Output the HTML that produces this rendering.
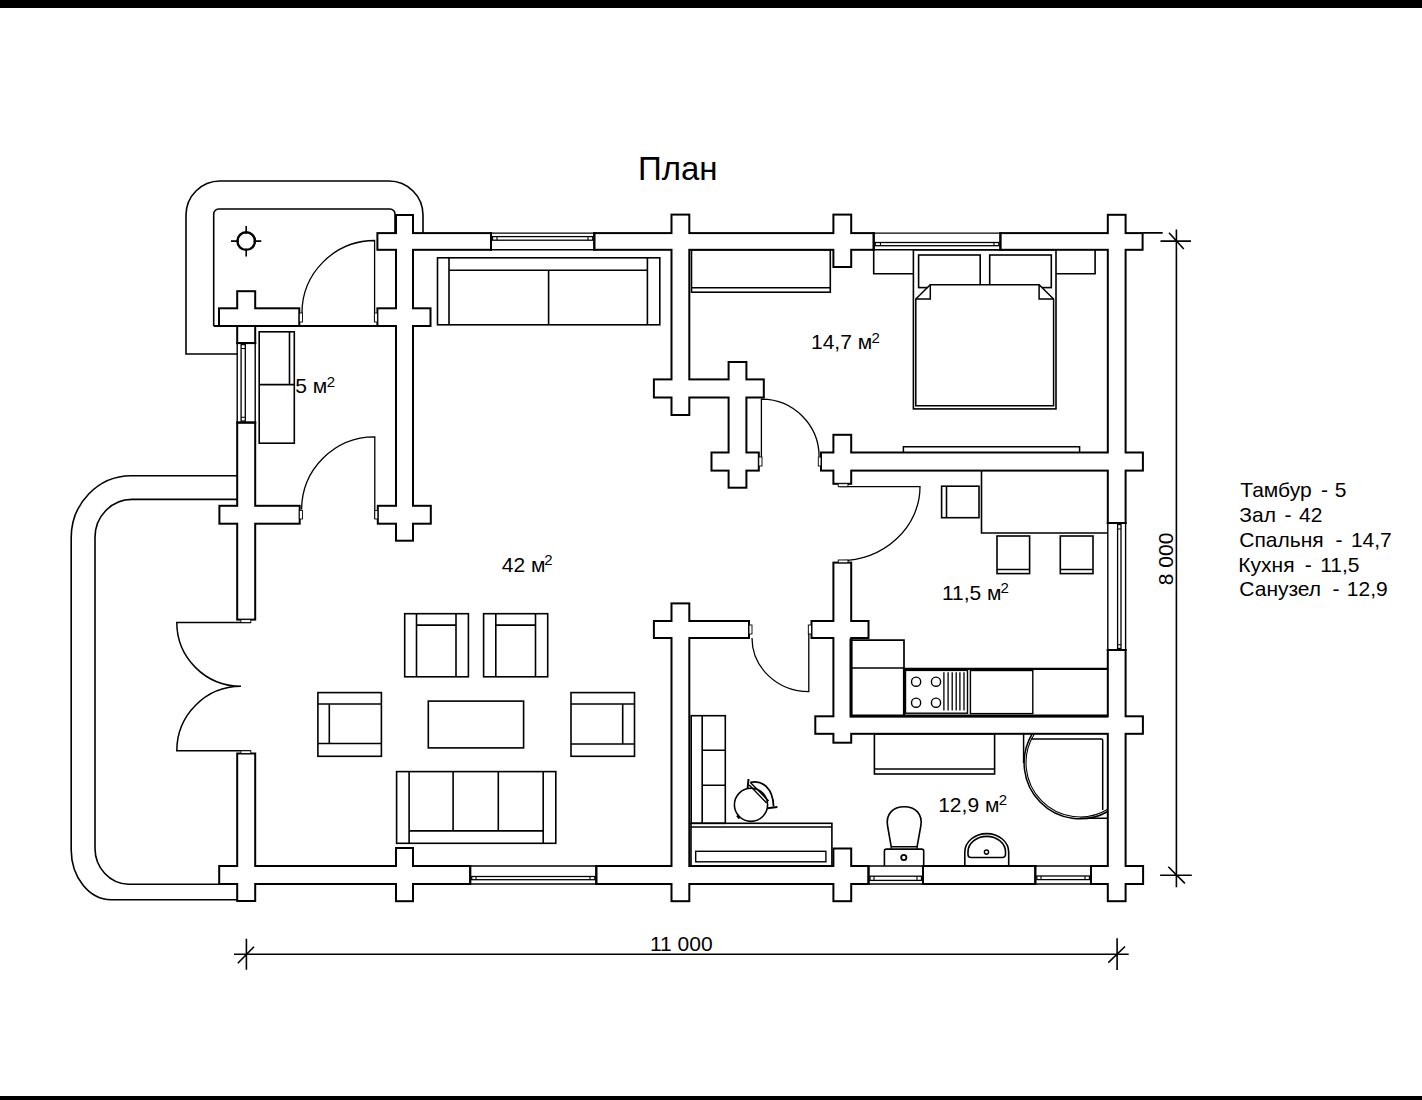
<!DOCTYPE html>
<html><head><meta charset="utf-8"><style>
html,body{margin:0;padding:0;background:#fff;width:1422px;height:1100px;overflow:hidden;position:relative}
.bar{position:absolute;left:0;width:1422px;background:#000}
svg{position:absolute;left:0;top:0}
.t{position:absolute;font-family:"Liberation Sans",sans-serif;color:#000;white-space:nowrap;line-height:1}
.r{font-size:20px}
.r sup{font-size:14px;vertical-align:0;position:relative;top:-8px}
.rot{transform:rotate(-90deg);transform-origin:0 0}
.leg{font-size:20px;line-height:24.6px}
</style></head><body>
<div class="bar" style="top:0;height:8px"></div>
<div class="bar" style="top:1096px;height:4px"></div>
<svg width="1422" height="1100" viewBox="0 0 1422 1100">
<g fill="#000">
<rect x="376.40" y="232.10" width="115.60" height="18.70"/>
<rect x="593.30" y="232.10" width="281.40" height="18.70"/>
<rect x="999.40" y="232.10" width="144.20" height="18.70"/>
<rect x="395.00" y="214.00" width="19.00" height="327.70"/>
<rect x="670.50" y="213.60" width="19.80" height="202.40"/>
<rect x="832.40" y="213.60" width="19.80" height="54.40"/>
<rect x="1106.80" y="213.80" width="19.80" height="310.20"/>
<rect x="1106.80" y="649.00" width="19.80" height="253.20"/>
<rect x="218.00" y="307.30" width="82.30" height="19.70"/>
<rect x="376.40" y="307.30" width="55.10" height="19.70"/>
<rect x="236.20" y="290.20" width="20.00" height="53.90"/>
<rect x="236.20" y="421.60" width="20.00" height="199.00"/>
<rect x="236.20" y="752.50" width="20.00" height="149.50"/>
<rect x="218.40" y="504.80" width="82.30" height="19.90"/>
<rect x="376.80" y="504.80" width="55.00" height="19.90"/>
<rect x="652.90" y="378.40" width="111.90" height="20.10"/>
<rect x="727.60" y="361.00" width="19.80" height="127.70"/>
<rect x="710.50" y="451.50" width="49.30" height="20.10"/>
<rect x="820.00" y="451.50" width="323.90" height="20.10"/>
<rect x="832.40" y="433.80" width="19.80" height="51.00"/>
<rect x="832.40" y="561.60" width="19.80" height="182.10"/>
<rect x="652.90" y="620.00" width="97.10" height="19.00"/>
<rect x="810.50" y="620.00" width="59.00" height="19.00"/>
<rect x="670.50" y="602.40" width="19.80" height="299.80"/>
<rect x="814.30" y="715.30" width="329.60" height="19.50"/>
<rect x="218.20" y="865.00" width="253.00" height="20.00"/>
<rect x="595.30" y="865.00" width="274.20" height="20.00"/>
<rect x="922.00" y="865.00" width="114.30" height="20.00"/>
<rect x="1090.00" y="865.00" width="54.10" height="20.00"/>
<rect x="395.00" y="847.00" width="19.00" height="55.20"/>
<rect x="832.40" y="847.50" width="19.80" height="54.70"/>
</g><g fill="#fff">
<rect x="378.40" y="234.10" width="111.60" height="14.70"/>
<rect x="595.30" y="234.10" width="277.40" height="14.70"/>
<rect x="1001.40" y="234.10" width="140.20" height="14.70"/>
<rect x="397.00" y="216.00" width="15.00" height="323.70"/>
<rect x="672.50" y="215.60" width="15.80" height="198.40"/>
<rect x="834.40" y="215.60" width="15.80" height="50.40"/>
<rect x="1108.80" y="215.80" width="15.80" height="306.20"/>
<rect x="1108.80" y="651.00" width="15.80" height="249.20"/>
<rect x="220.00" y="309.30" width="78.30" height="15.70"/>
<rect x="378.40" y="309.30" width="51.10" height="15.70"/>
<rect x="238.20" y="292.20" width="16.00" height="49.90"/>
<rect x="238.20" y="423.60" width="16.00" height="195.00"/>
<rect x="238.20" y="754.50" width="16.00" height="145.50"/>
<rect x="220.40" y="506.80" width="78.30" height="15.90"/>
<rect x="378.80" y="506.80" width="51.00" height="15.90"/>
<rect x="654.90" y="380.40" width="107.90" height="16.10"/>
<rect x="729.60" y="363.00" width="15.80" height="123.70"/>
<rect x="712.50" y="453.50" width="45.30" height="16.10"/>
<rect x="822.00" y="453.50" width="319.90" height="16.10"/>
<rect x="834.40" y="435.80" width="15.80" height="47.00"/>
<rect x="834.40" y="563.60" width="15.80" height="178.10"/>
<rect x="654.90" y="622.00" width="93.10" height="15.00"/>
<rect x="812.50" y="622.00" width="55.00" height="15.00"/>
<rect x="672.50" y="604.40" width="15.80" height="295.80"/>
<rect x="816.30" y="717.30" width="325.60" height="15.50"/>
<rect x="220.20" y="867.00" width="249.00" height="16.00"/>
<rect x="597.30" y="867.00" width="270.20" height="16.00"/>
<rect x="924.00" y="867.00" width="110.30" height="16.00"/>
<rect x="1092.00" y="867.00" width="50.10" height="16.00"/>
<rect x="397.00" y="849.00" width="15.00" height="51.20"/>
<rect x="834.40" y="849.50" width="15.80" height="50.70"/>
</g>
<path d="M491,233.1H594.3M491,249.8H594.3" fill="none" stroke="#000" stroke-width="1.4"/>
<path d="M491,232.1V250.8M594.3,232.1V250.8" fill="none" stroke="#000" stroke-width="2"/>
<rect x="492.5" y="236.6" width="100.29999999999995" height="3.5999999999999943" fill="none" stroke="#000" stroke-width="1.3"/>
<path d="M497,236.6V240.2M588,236.6V240.2" fill="none" stroke="#000" stroke-width="1.1"/>
<path d="M873.7,233.1H1000.4M873.7,249.8H1000.4" fill="none" stroke="#000" stroke-width="1.4"/>
<path d="M873.7,232.1V250.8M1000.4,232.1V250.8" fill="none" stroke="#000" stroke-width="2"/>
<rect x="875.2" y="242.5" width="123.69999999999993" height="3.1999999999999886" fill="none" stroke="#000" stroke-width="1.3"/>
<path d="M880.5,242.5V245.7M994,242.5V245.7" fill="none" stroke="#000" stroke-width="1.1"/>
<path d="M470.2,866H596.3M470.2,884H596.3" fill="none" stroke="#000" stroke-width="1.4"/>
<path d="M470.2,865V885M596.3,865V885" fill="none" stroke="#000" stroke-width="2"/>
<rect x="471.7" y="876.5" width="123.09999999999997" height="3.2000000000000455" fill="none" stroke="#000" stroke-width="1.3"/>
<path d="M476,876.5V879.7M590,876.5V879.7" fill="none" stroke="#000" stroke-width="1.1"/>
<path d="M868.5,866H923M868.5,884H923" fill="none" stroke="#000" stroke-width="1.4"/>
<path d="M868.5,865V885M923,865V885" fill="none" stroke="#000" stroke-width="2"/>
<rect x="870.0" y="876.2" width="51.5" height="4.199999999999932" fill="none" stroke="#000" stroke-width="1.3"/>
<path d="M874,876.2V880.4M917,876.2V880.4" fill="none" stroke="#000" stroke-width="1.1"/>
<path d="M1035.3,866H1091M1035.3,884H1091" fill="none" stroke="#000" stroke-width="1.4"/>
<path d="M1035.3,865V885M1091,865V885" fill="none" stroke="#000" stroke-width="2"/>
<rect x="1036.8" y="876" width="52.700000000000045" height="3.6000000000000227" fill="none" stroke="#000" stroke-width="1.3"/>
<path d="M1041,876V879.6M1085,876V879.6" fill="none" stroke="#000" stroke-width="1.1"/>
<path d="M241.1,348.5H245.3M241.1,417.2H245.3" fill="none" stroke="#000" stroke-width="1.1"/>
<path d="M237.2,343.1V422.6M255.2,343.1V422.6" fill="none" stroke="#000" stroke-width="1.4"/>
<path d="M236.2,343.1H256.2M236.2,422.6H256.2" fill="none" stroke="#000" stroke-width="2"/>
<rect x="241.1" y="344.6" width="4.200000000000017" height="76.5" fill="none" stroke="#000" stroke-width="1.3"/>
<path d="M1117.6,529H1121M1117.6,644.7H1121" fill="none" stroke="#000" stroke-width="1.1"/>
<path d="M1107.8,523V650M1125.6,523V650" fill="none" stroke="#000" stroke-width="1.4"/>
<path d="M1106.8,523H1126.6M1106.8,650H1126.6" fill="none" stroke="#000" stroke-width="2"/>
<rect x="1117.6" y="524.5" width="3.400000000000091" height="124" fill="none" stroke="#000" stroke-width="1.3"/>
<path d="M237.2,354H186V215A34,34 0 0 1 220,181H389A34,34 0 0 1 423,215V233.1" fill="none" stroke="#000" stroke-width="1.6"/>
<path d="M213.7,326V214A5,5 0 0 1 218.7,209H390A5,5 0 0 1 395,214V233" fill="none" stroke="#000" stroke-width="1.6"/>
<path d="M213.7,326H396" fill="none" stroke="#000" stroke-width="1.8"/>
<path d="M237.2,475.7H131A60,62 0 0 0 71.2,537.7V850A40,50 0 0 0 111.5,899.7H237.2" fill="none" stroke="#000" stroke-width="1.6"/>
<path d="M237.2,499.4H132A37,38 0 0 0 95,537.4V848.3A34,36 0 0 0 128.5,884.2H219.3" fill="none" stroke="#000" stroke-width="1.6"/>
<circle cx="246.2" cy="241.1" r="8.8" fill="none" stroke="#000" stroke-width="2.4"/>
<path d="M231,241.1H238.8M253.6,241.1H261.3M246.2,226V233.8M246.2,248.4V256.6" fill="none" stroke="#000" stroke-width="1.6"/>
<path d="M374.6,322V240.5A73,72.5 0 0 0 302,313" fill="none" stroke="#000" stroke-width="1.3"/>
<rect x="299.3" y="313" width="3.1999999999999886" height="9" fill="#fff" stroke="#000" stroke-width="0.9"/>
<rect x="374.4" y="313" width="3.0" height="9" fill="#fff" stroke="#000" stroke-width="0.9"/>
<path d="M374.8,519V436.9A73,73 0 0 0 301.6,509.5" fill="none" stroke="#000" stroke-width="1.3"/>
<rect x="299.3" y="510.4" width="3.1999999999999886" height="8.600000000000023" fill="#fff" stroke="#000" stroke-width="0.9"/>
<rect x="374.8" y="510.4" width="3.0" height="8.600000000000023" fill="#fff" stroke="#000" stroke-width="0.9"/>
<path d="M250.8,622.6H176.8A64.2,63.7 0 0 0 241,686.3A64.2,64.5 0 0 0 176.8,750.8H250.8" fill="none" stroke="#000" stroke-width="1.5"/>
<rect x="240.9" y="619.6" width="9.900000000000006" height="3.0" fill="#fff" stroke="#000" stroke-width="0.9"/>
<rect x="240.9" y="750.8" width="9.900000000000006" height="2.7000000000000455" fill="#fff" stroke="#000" stroke-width="0.9"/>
<path d="M761.4,466V399.2A57.7,57.5 0 0 1 819.1,456.7" fill="none" stroke="#000" stroke-width="1.3"/>
<rect x="758.8" y="457" width="3.2000000000000455" height="9" fill="#fff" stroke="#000" stroke-width="0.9"/>
<rect x="818.3" y="457" width="2.7000000000000455" height="9" fill="#fff" stroke="#000" stroke-width="0.9"/>
<path d="M839.4,486.7H920A80.6,73.9 0 0 1 839.4,560.6" fill="none" stroke="#000" stroke-width="1.3"/>
<rect x="838.2" y="483.7" width="9.799999999999955" height="3.0" fill="#fff" stroke="#000" stroke-width="0.9"/>
<rect x="838.2" y="560" width="9.799999999999955" height="2.7999999999999545" fill="#fff" stroke="#000" stroke-width="0.9"/>
<path d="M808.8,634V625.5M808.8,625.5V691.6A56.8,53.6 0 0 1 752,638" fill="none" stroke="#000" stroke-width="1.3"/>
<rect x="749" y="625" width="3" height="9" fill="#fff" stroke="#000" stroke-width="0.9"/>
<rect x="808.3" y="625" width="3.2000000000000455" height="9" fill="#fff" stroke="#000" stroke-width="0.9"/>
<rect x="437.5" y="257.8" width="222.30" height="67.00" fill="none" stroke="#000" stroke-width="1.6"/>
<path d="M449,257.8V324.8M647.4,257.8V324.8M449,270.3H647.4M548.6,270.3V324.8" fill="none" stroke="#000" stroke-width="1.6"/>
<rect x="259.2" y="331.8" width="35.10" height="111.40" fill="none" stroke="#000" stroke-width="1.6"/>
<path d="M289.5,331.8V384.6M259.2,384.6H294.3" fill="none" stroke="#000" stroke-width="1.6"/>
<rect x="691.5" y="249.8" width="138.80" height="42.40" fill="none" stroke="#000" stroke-width="1.6"/>
<path d="M691.5,287.8H830.3" fill="none" stroke="#000" stroke-width="1.6"/>
<path d="M873.7,249.8V273.8H913.1" fill="none" stroke="#000" stroke-width="1.6"/>
<path d="M1056,273.8H1095.1V249.8" fill="none" stroke="#000" stroke-width="1.6"/>
<rect x="913.4" y="249.8" width="142.60" height="159.10" fill="none" stroke="#000" stroke-width="1.6"/>
<rect x="918.6" y="255" width="61.60" height="32.60" fill="none" stroke="#000" stroke-width="1.6"/>
<rect x="989.7" y="255" width="61.60" height="32.60" fill="none" stroke="#000" stroke-width="1.6"/>
<path d="M915.8,299L930.3,284.7H1039.1L1053.6,299V405.7H915.8Z" fill="#fff" stroke="#000" stroke-width="1.5"/>
<path d="M915.8,299H930.3V284.7M1053.6,299H1039.1V284.7" fill="none" stroke="#000" stroke-width="1.5"/>
<path d="M903.4,452.5V446.8H1079.6V452.5" fill="none" stroke="#000" stroke-width="1.5"/>
<path d="M981.5,470.6V533H1107.8" fill="none" stroke="#000" stroke-width="1.6"/>
<rect x="941.6" y="486.2" width="37.40" height="31.50" fill="none" stroke="#000" stroke-width="1.6"/>
<path d="M946.5,486.2V517.7" fill="none" stroke="#000" stroke-width="1.6"/>
<rect x="997" y="536" width="32.60" height="37.60" fill="none" stroke="#000" stroke-width="1.6"/>
<path d="M997,569.5H1029.6" fill="none" stroke="#000" stroke-width="1.6"/>
<rect x="1060.3" y="536" width="32.70" height="37.60" fill="none" stroke="#000" stroke-width="1.6"/>
<path d="M1060.3,569.5H1093" fill="none" stroke="#000" stroke-width="1.6"/>
<path d="M851.5,640.1H904V668M851.5,668H904" fill="none" stroke="#000" stroke-width="1.7"/>
<path d="M851,638.4V716.1H1107.8" fill="none" stroke="#000" stroke-width="3"/>
<path d="M904,716V668.9H1107.8" fill="none" stroke="#000" stroke-width="2.2"/>
<rect x="905.5" y="670.4" width="62.00" height="42.80" fill="none" stroke="#000" stroke-width="1.4"/>
<circle cx="916.1" cy="681.7" r="4.6" fill="none" stroke="#000" stroke-width="1.4"/>
<circle cx="916.1" cy="702.7" r="4.6" fill="none" stroke="#000" stroke-width="1.4"/>
<circle cx="936" cy="681.7" r="4.6" fill="none" stroke="#000" stroke-width="1.4"/>
<circle cx="936" cy="702.7" r="4.6" fill="none" stroke="#000" stroke-width="1.4"/>
<path d="M943.9,672.3V710.5M948.1,672.3V710.5M952.2,672.3V710.5M956.2,672.3V710.5M959.9,672.3V710.5M964.0,672.3V710.5" fill="none" stroke="#000" stroke-width="1.3"/>
<rect x="970.4" y="670.5" width="62.40" height="43.10" fill="none" stroke="#000" stroke-width="1.4"/>
<rect x="874.4" y="733.8" width="120.20" height="40.20" fill="none" stroke="#000" stroke-width="1.6"/>
<path d="M874.4,769H994.6" fill="none" stroke="#000" stroke-width="1.6"/>
<path d="M1023.6,733.8V763M1080,818.2H1107.8" fill="none" stroke="#000" stroke-width="1.5"/>
<path d="M1031,739.1H1101.5A1.3,1.3 0 0 1 1102.7,740.4V810" fill="none" stroke="#000" stroke-width="1.5"/>
<path d="M1032.1,734A56,56 0 0 0 1107.8,811.5" fill="none" stroke="#000" stroke-width="1.5"/>
<path d="M1034.4,734A54,54 0 0 0 1107.8,809.2" fill="none" stroke="#000" stroke-width="1.1"/>
<path d="M884.4,866V851.1A2,2 0 0 1 886.4,849.1H921.7A2,2 0 0 1 923.7,851.1V866" fill="none" stroke="#000" stroke-width="1.6"/>
<path d="M891.2,846.7L887.6,826C885.5,814 893,806.8 904.2,806.8C915.4,806.8 922.9,814 920.8,826L917.1,846.7Z" fill="none" stroke="#000" stroke-width="1.6"/>
<path d="M891.2,849V846.5M917.1,849V846.5" fill="none" stroke="#000" stroke-width="1.2"/>
<circle cx="903.8" cy="857.5" r="2.6" fill="none" stroke="#000" stroke-width="1.8"/>
<path d="M964.8,866V852A21.95,18.4 0 0 1 1008.7,852V866" fill="none" stroke="#000" stroke-width="1.6"/>
<path d="M968,852A18.75,15.6 0 0 1 1005.5,852V854.5A3,3 0 0 1 1002.5,857.5H971A3,3 0 0 1 968,854.5Z" fill="none" stroke="#000" stroke-width="1.6"/>
<circle cx="986.5" cy="852.1" r="2.1" fill="none" stroke="#000" stroke-width="1.4"/>
<rect x="691.2" y="715.7" width="34.10" height="107.60" fill="none" stroke="#000" stroke-width="1.6"/>
<path d="M702.2,715.7V823.3M702.2,750.2H725.3M702.2,785.3H725.3" fill="none" stroke="#000" stroke-width="1.6"/>
<rect x="691" y="823.3" width="140.90" height="42.70" fill="none" stroke="#000" stroke-width="1.6"/>
<path d="M691,827H831.9" fill="none" stroke="#000" stroke-width="1.4"/>
<rect x="695.7" y="851.3" width="130.20" height="10.50" fill="none" stroke="#000" stroke-width="1.4"/>
<circle cx="751" cy="804.8" r="16.6" fill="none" stroke="#000" stroke-width="1.6"/>
<path d="M748.5,779L747.6,788.5M767.5,808.3L777.4,807.1M737,815.5L739.5,818.5" fill="none" stroke="#000" stroke-width="2.0"/>
<path d="M750.4,782.6L768.6,801M749.2,785L766.6,803" fill="none" stroke="#000" stroke-width="1.4"/>
<path d="M750.4,782.4C762,779.5 773,788 773.6,806.5" fill="none" stroke="#000" stroke-width="1.8"/>
<rect x="404.7" y="613.7" width="63.70" height="63.10" fill="none" stroke="#000" stroke-width="1.6"/>
<path d="M416.5,613.7V676.8M456,613.7V676.8M416.5,625.1H456" fill="none" stroke="#000" stroke-width="1.6"/>
<rect x="483.6" y="613.7" width="64.10" height="63.10" fill="none" stroke="#000" stroke-width="1.6"/>
<path d="M495.8,613.7V676.8M535.5,613.7V676.8M495.8,625.1H535.5" fill="none" stroke="#000" stroke-width="1.6"/>
<rect x="317.9" y="692.6" width="63.50" height="63.70" fill="none" stroke="#000" stroke-width="1.6"/>
<path d="M317.9,704H381.4M317.9,743.5H381.4M329.3,704V743.5" fill="none" stroke="#000" stroke-width="1.6"/>
<rect x="571" y="692.6" width="63.50" height="63.70" fill="none" stroke="#000" stroke-width="1.6"/>
<path d="M571,704H634.5M571,744H634.5M622.7,704V744" fill="none" stroke="#000" stroke-width="1.6"/>
<rect x="428.3" y="701.1" width="95.30" height="46.80" fill="none" stroke="#000" stroke-width="1.6"/>
<rect x="396.6" y="771.6" width="159.20" height="71.70" fill="none" stroke="#000" stroke-width="1.6"/>
<path d="M409.1,771.6V843.3M543.2,771.6V843.3M453.1,771.6V830.9M498.3,771.6V830.9M409.1,830.9H543.2" fill="none" stroke="#000" stroke-width="1.6"/>
<path d="M1176.4,229.5V887.3" fill="none" stroke="#000" stroke-width="1.6"/>
<path d="M1160.5,241.1H1191M1169,232.7L1183.8,249M1142.6,232.9H1162.7" fill="none" stroke="#000" stroke-width="1.6"/>
<path d="M1160.1,875.2H1191.8M1168.3,866.7L1184.9,883.4" fill="none" stroke="#000" stroke-width="1.6"/>
<path d="M234,954.2H1128.7" fill="none" stroke="#000" stroke-width="1.6"/>
<path d="M246.4,938.7V969.7M237.8,963.2L254,946.7" fill="none" stroke="#000" stroke-width="1.6"/>
<path d="M1117.1,938.3V970M1108.3,962.6L1125,946.5" fill="none" stroke="#000" stroke-width="1.6"/>
<g font-family="Liberation Sans, sans-serif" fill="#000">
<text x="638.00" y="180.00" font-size="33">План</text>
<text x="811.00" y="349.30" font-size="21">14,7 м</text>
<text x="871.50" y="342.50" font-size="15">2</text>
<text x="295.30" y="393.40" font-size="21">5 м</text>
<text x="326.80" y="386.60" font-size="15">2</text>
<text x="501.80" y="572.00" font-size="21">42 м</text>
<text x="544.30" y="565.20" font-size="15">2</text>
<text x="941.90" y="599.50" font-size="21">11,5 м</text>
<text x="1000.40" y="592.70" font-size="15">2</text>
<text x="938.20" y="812.00" font-size="21">12,9 м</text>
<text x="998.70" y="805.20" font-size="15">2</text>
<text x="649.90" y="950.50" font-size="21">11 000</text>
<text transform="translate(1173,585.2) rotate(-90)" font-size="21">8 000</text>
<text x="1240.30" y="497.10" font-size="21">Тамбур</text>
<text x="1321.00" y="497.10" font-size="21">-</text>
<text x="1334.80" y="497.10" font-size="21">5</text>
<text x="1239.30" y="521.60" font-size="21">Зал</text>
<text x="1284.60" y="521.60" font-size="21">-</text>
<text x="1299.10" y="521.60" font-size="21">42</text>
<text x="1239.30" y="546.70" font-size="21">Спальня</text>
<text x="1335.40" y="546.70" font-size="21">-</text>
<text x="1350.90" y="546.70" font-size="21">14,7</text>
<text x="1238.30" y="571.90" font-size="21">Кухня</text>
<text x="1304.80" y="571.90" font-size="21">-</text>
<text x="1320.20" y="571.90" font-size="21">11,5</text>
<text x="1239.30" y="596.30" font-size="21">Санузел</text>
<text x="1332.40" y="596.30" font-size="21">-</text>
<text x="1346.80" y="596.30" font-size="21">12,9</text>
</g>
</svg>

</body></html>
